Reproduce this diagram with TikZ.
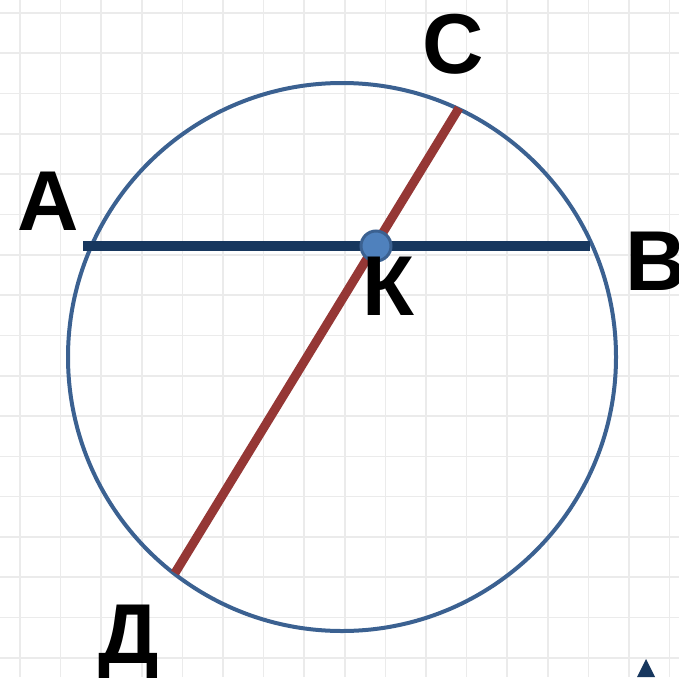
\documentclass[tikz,border=0pt]{standalone}
\usepackage{fontspec}
\setmainfont{Liberation Sans}
\definecolor{circ}{HTML}{3B6191}
\definecolor{navy}{HTML}{17375E}
\definecolor{brick}{HTML}{953735}
\definecolor{dotfill}{HTML}{4F81BD}
\definecolor{gridc}{HTML}{EBEBEB}
\begin{document}
\begin{tikzpicture}[x=1pt,y=-1pt,
  lbl/.style={font=\fontsize{85}{85}\selectfont\bfseries, inner sep=0pt, anchor=base, text=black},
  gridline/.style={gridc, line width=1.6pt}]
\useasboundingbox (0,0) rectangle (679,677);
\fill[white] (0,0) rectangle (679,677);
% grid
\foreach \i in {0,...,16} {
  \draw[gridline] ({20+40.6*\i},0) -- ({20+40.6*\i},677);
  \draw[gridline] (0,{13+40.3*\i}) -- (679,{13+40.3*\i});
}
% circle
\coordinate (O) at (342,357);
\draw[circ, line width=4pt] (O) circle[radius=274];
% chords
\coordinate (A) at (83,246);
\coordinate (B) at (590,246);
\coordinate (C) at (459,108);
\coordinate (D) at (175,573);
\draw[navy, line width=10pt] (A) -- (B);
\draw[brick, line width=9pt] (C) -- (D);
% point K
\node[circle, fill=dotfill, draw=circ, line width=3pt, minimum size=30pt, inner sep=0pt] (K) at (376,246) {};
% labels
\node[lbl] (lA) at (48,230) {A};
\node[lbl] (lC) at (453,73) {C};
\node[lbl] (lB) at (656,290) {B};
\node[lbl] (lK) at (388,315) {К};
\node[lbl] (lD) at (129,663) {Д};
% corner fragment
\fill[navy] (646,659) -- (655,677) -- (637,677) -- cycle;
\end{tikzpicture}
\end{document}
